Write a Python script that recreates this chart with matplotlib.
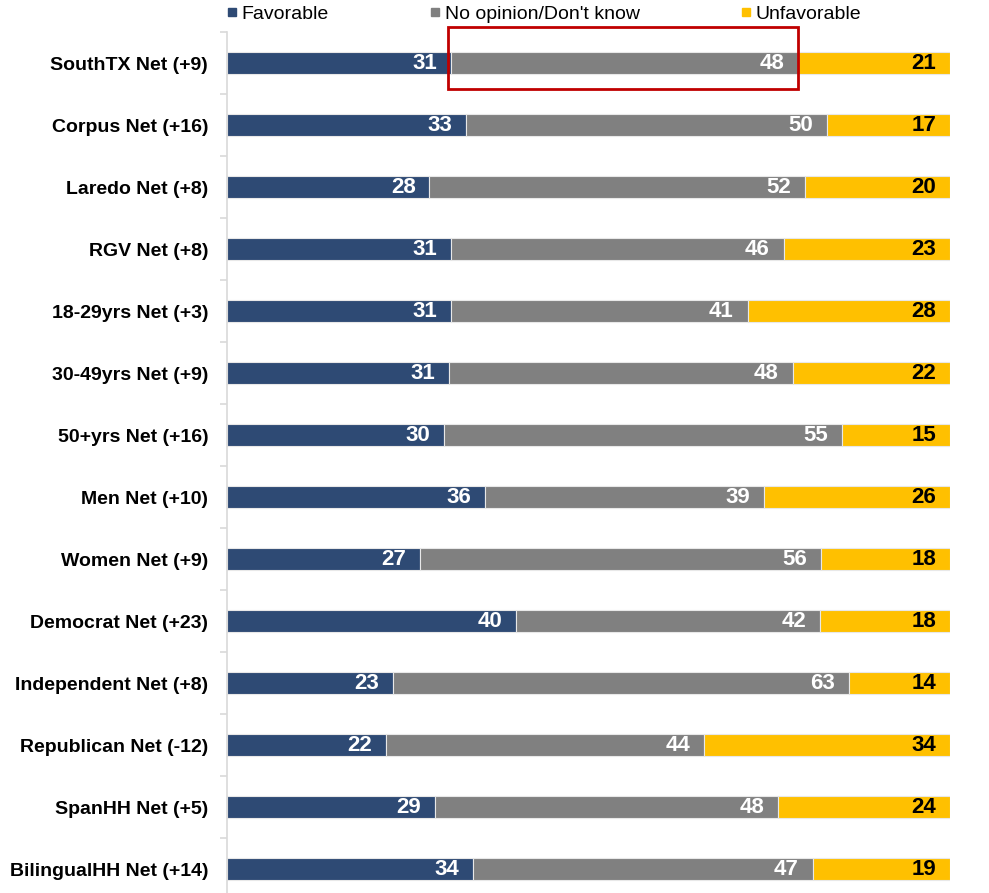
import matplotlib.pyplot as plt
import numpy as np
from matplotlib.lines import Line2D
from matplotlib.patches import Rectangle

plt.rcParams['font.family'] = ['Liberation Sans', 'DejaVu Sans']

# data
groups = ['SouthTX Net (+9)', 'Corpus Net (+16)', 'Laredo Net (+8)', 'RGV Net (+8)',
          '18-29yrs Net (+3)', '30-49yrs Net (+9)', '50+yrs Net (+16)', 'Men Net (+10)',
          'Women Net (+9)', 'Democrat Net (+23)', 'Independent Net (+8)',
          'Republican Net (-12)', 'SpanHH Net (+5)', 'BilingualHH Net (+14)']
favorable = [31, 33, 28, 31, 31, 31, 30, 36, 27, 40, 23, 22, 29, 34]
no_opinion = [48, 50, 52, 46, 41, 48, 55, 39, 56, 42, 63, 44, 48, 47]
unfavorable = [21, 17, 20, 23, 28, 22, 15, 26, 18, 18, 14, 34, 24, 19]

series = ['Favorable', "No opinion/Don't know", 'Unfavorable']
colors = ['#2E4A74', '#808080', '#FFC000']
text_colors = ['white', 'white', 'black']

vals = np.array([favorable, no_opinion, unfavorable], dtype=float)
pct = vals / vals.sum(axis=0) * 100  # 100% stacked

fig = plt.figure(figsize=(9.89, 8.93), dpi=100)
ax = fig.add_axes([227 / 989, -7 / 893, 723 / 989, 868 / 893])

y = np.arange(len(groups))
left = np.zeros(len(groups))
for k in range(3):
    ax.barh(y, pct[k], left=left, height=0.37, color=colors[k],
            edgecolor='#E8E8E8', linewidth=0.8)
    for i in range(len(groups)):
        ax.annotate(str(int(vals[k, i])), xy=(left[i] + pct[k, i], y[i]),
                    xytext=(-10, 0), textcoords='offset points',
                    ha='right', va='center', fontsize=16, fontweight='bold',
                    color=text_colors[k])
    left += pct[k]

# red box around the first grey segment
x0 = pct[0, 0] - 0.5
x1 = pct[0, 0] + pct[1, 0]
ax.add_patch(Rectangle((x0, -0.58), x1 - x0, 1.0, fill=False,
                       edgecolor='#C00000', linewidth=2, clip_on=False, zorder=5))

ax.set_xlim(0, 100)
ax.set_ylim(len(groups) - 0.5, -0.5)
ax.set_yticks(y)
ax.set_yticklabels(groups, fontsize=14, fontweight='bold')
ax.set_yticks(np.arange(-0.5, len(groups), 1), minor=True)
ax.tick_params(axis='y', which='major', length=0, pad=13.5)
ax.tick_params(axis='y', which='minor', length=5, color='#D9D9D9', width=1.2)
ax.set_xticks([])
for s in ['top', 'right', 'bottom']:
    ax.spines[s].set_visible(False)
ax.spines['left'].set_color('#D9D9D9')
ax.spines['left'].set_linewidth(1.2)

handles = [Line2D([], [], marker='s', linestyle='', color=c, markersize=6) for c in colors]
fig.legend(handles, series, loc='center left', bbox_to_anchor=(227 / 989, 1 - 14 / 893),
           ncol=3, frameon=False, fontsize=14, borderpad=0, borderaxespad=0,
           handlelength=0.5, handletextpad=0.25, columnspacing=5.2)

fig.savefig('out.png', dpi=100)
